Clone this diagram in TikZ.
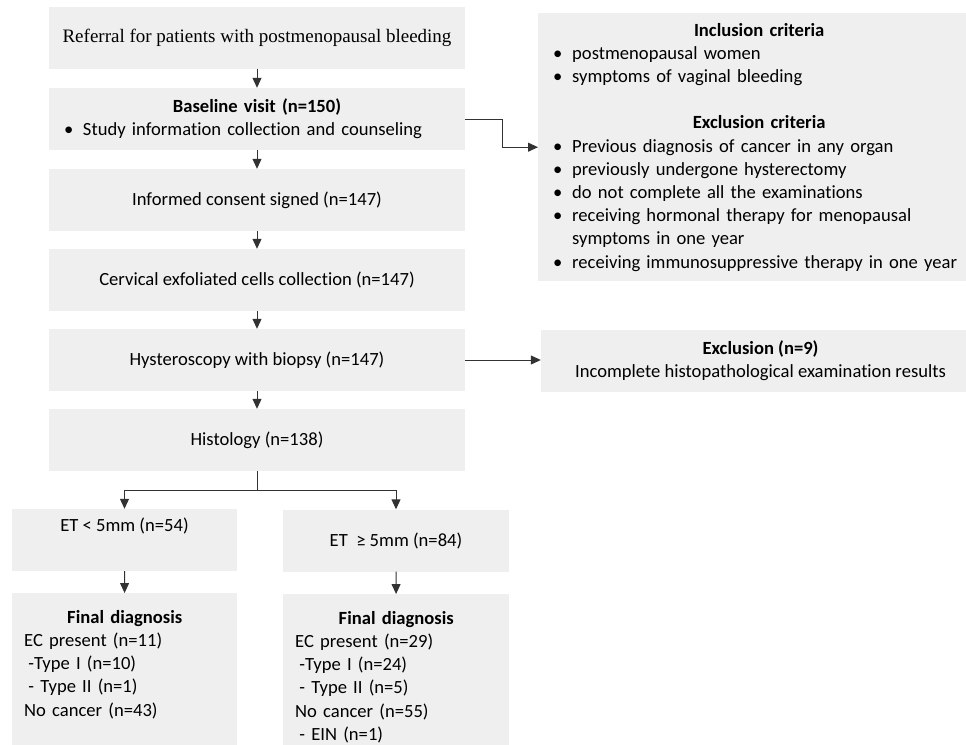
\documentclass[tikz,border=0pt]{standalone}
\usepackage{fontspec}
\setmainfont{Carlito}[Ligatures=NoCommon]
\newfontfamily\referralfont{Liberation Serif}
\usepackage{xcolor}
\definecolor{BoxGray}{RGB}{239,239,239}
\definecolor{ArrowGray}{RGB}{50,50,50}
\usetikzlibrary{arrows.meta}
\newcommand{\critem}[1]{\mbox{\makebox[19pt][l]{\textbullet}#1}}

\begin{document}
\begin{tikzpicture}[x=1pt,y=-1pt,
        box/.style={fill=BoxGray,inner sep=0pt,minimum height=62pt,font=\fontsize{18.6}{23.2}\selectfont},
        mainbox/.style={box,minimum width=416pt},
        etbox/.style={box,minimum width=225pt},
        finalbox/.style={box,anchor=north west,align=left,inner xsep=12pt,inner ysep=15pt,text height=15pt,text depth=112pt},
        flow/.style={draw=ArrowGray,line width=1pt,-{Triangle[length=10pt,width=9pt]}}]
            \useasboundingbox (0,0) rectangle (966,744);
            \clip (0,0) rectangle (966,744);
            % main column
            \node[mainbox,font=\referralfont\fontsize{19}{23.2}\selectfont] (referral) at (257,38) {Referral for patients with postmenopausal bleeding};
            \node[mainbox,align=left,text width=386pt] (baseline) at (257,119) {\makebox[\linewidth]{\textbf{Baseline visit (n=150)}}\\
                \critem{Study information collection and counseling}};
            \node[mainbox] (consent) at (257,200) {Informed consent signed (n=147)};
            \node[mainbox] (cervical) at (257,280) {Cervical exfoliated cells collection (n=147)};
            \node[mainbox] (hystero) at (257,360) {Hysteroscopy with biopsy (n=147)};
            \node[mainbox] (histology) at (257,440) {Histology (n=138)};
            % criteria and exclusion
            \node[box,anchor=north west,align=left,inner xsep=15pt,text width=412pt,minimum height=268pt] (criteria) at (538,13) {\makebox[\linewidth]{\textbf{Inclusion criteria}}\\
                \critem{postmenopausal women}\\
                \critem{symptoms of vaginal bleeding}\\[23.2pt]
                \makebox[\linewidth]{\textbf{Exclusion criteria}}\\
                \critem{Previous diagnosis of cancer in any organ}\\
                \critem{previously undergone hysterectomy}\\
                \critem{do not complete all the examinations}\\
                \critem{receiving hormonal therapy for menopausal}\\
                \hspace*{19pt}symptoms in one year\\
                \critem{receiving immunosuppressive therapy in one year}};
            \node[box,align=center,minimum width=439pt] (exclusion) at (760.5,361) {\textbf{Exclusion (n=9)}\\Incomplete histopathological examination results};
            % two branches
            \node[etbox,text depth=30pt] (etlow) at (124.5,540) {ET < 5mm (n=54)};
            \node[etbox,minimum width=226pt] (ethigh) at (396,540.5) {ET\ \ ≥ 5mm (n=84)};
            \node[finalbox,text width=201pt] (finallow) at (12,593) {\makebox[\linewidth]{\textbf{Final diagnosis}}\\
                EC present (n=11)\\
                \hspace*{0.23em}-Type I (n=10)\\
                \hspace*{0.23em}- Type II (n=1)\\
                No cancer (n=43)};
            \node[finalbox,text width=202pt] (finalhigh) at (283,594) {\makebox[\linewidth]{\textbf{Final diagnosis}}\\
                EC present (n=29)\\
                \hspace*{0.23em}-Type I (n=24)\\
                \hspace*{0.23em}- Type II (n=5)\\
                No cancer (n=55)\\
                \hspace*{0.23em}- EIN (n=1)};
            % connectors
            \draw[flow] (referral) -- (baseline);
            \draw[flow] (baseline) -- (consent);
            \draw[flow] (consent) -- (cervical);
            \draw[flow] (cervical) -- (hystero);
            \draw[flow] (hystero) -- (histology);
            \draw[flow] (baseline.east) -- ++(37,0) |- (criteria.west);
            \draw[flow] (hystero.east) -- (hystero.east -| exclusion.west);
            \coordinate (split) at (257,490);
            \draw[draw=ArrowGray,line width=1pt] (histology) -- (split);
            \draw[flow] (split) -| (etlow);
            \draw[flow] (split) -| (ethigh);
            \draw[flow] (etlow) -- (finallow);
            \draw[flow] (ethigh) -- (finalhigh);
        \end{tikzpicture}
\end{document}
